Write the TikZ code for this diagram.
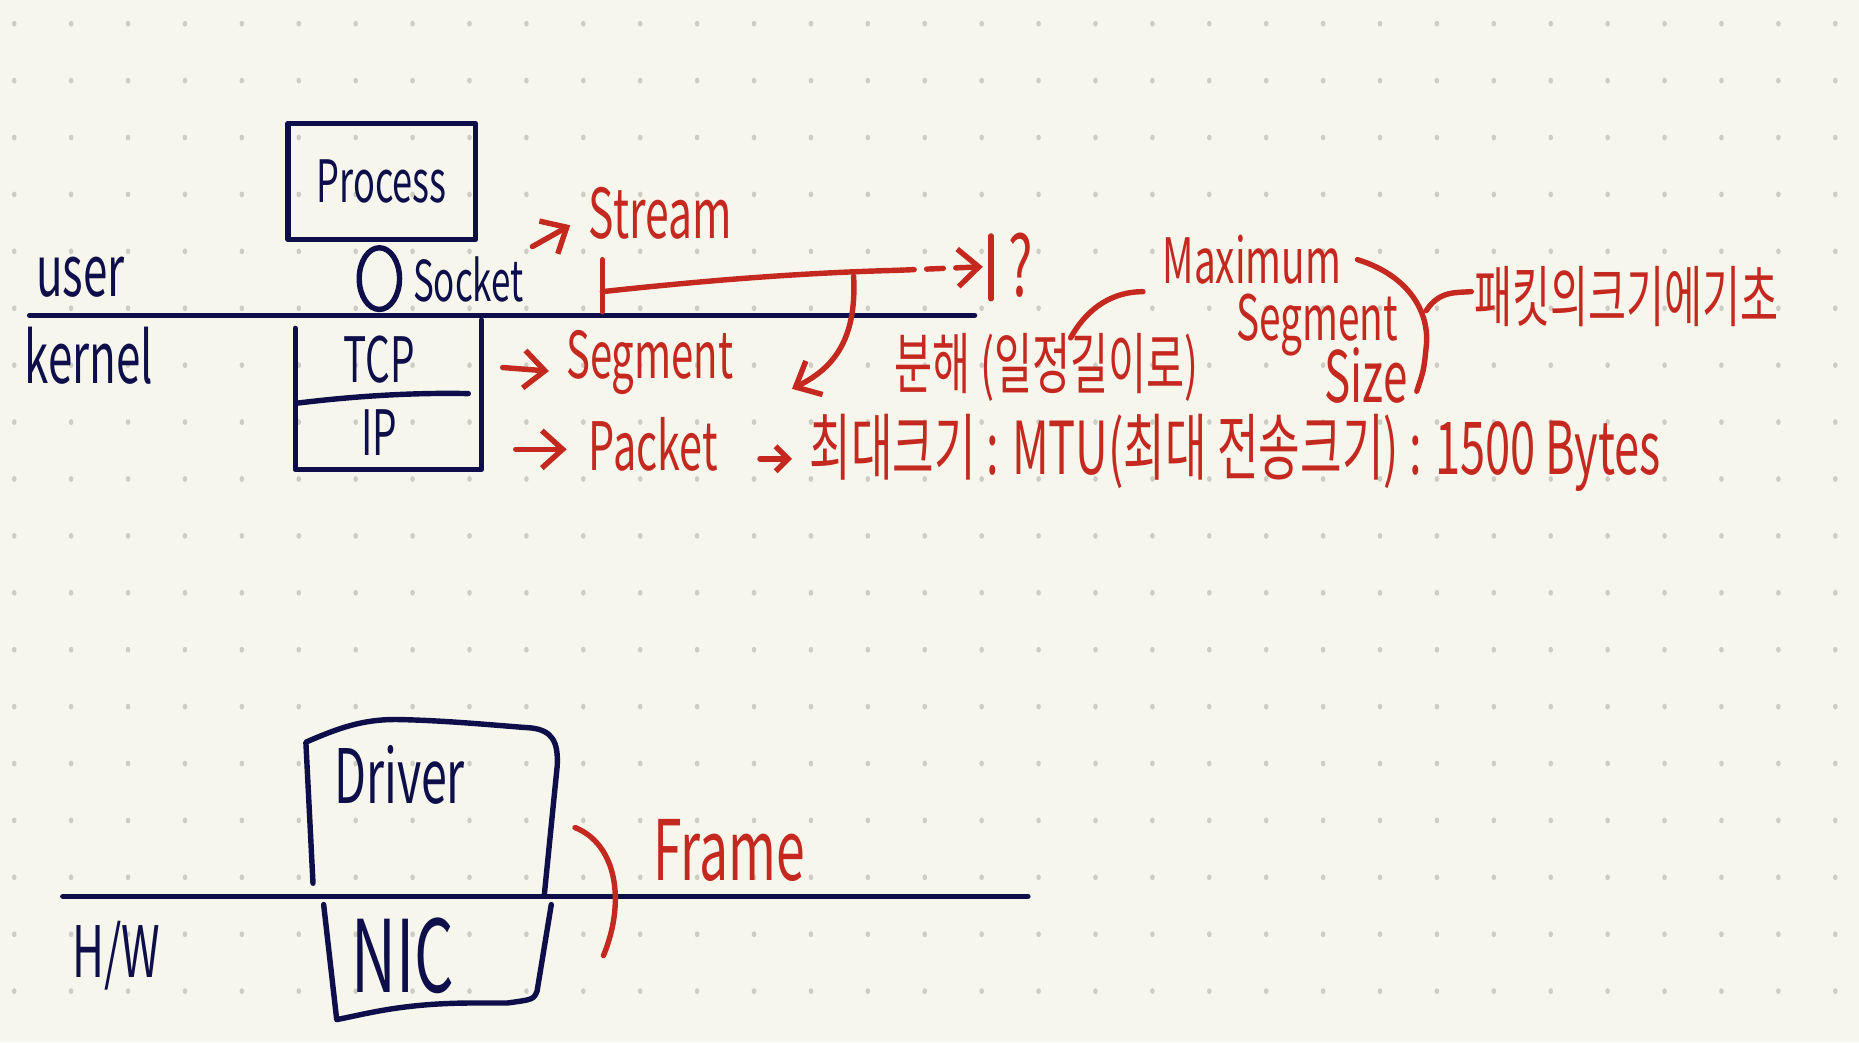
\documentclass[tikz,border=0pt]{standalone}
\usepackage{fontspec}
\usepackage{xcolor}
\usepackage{tikz}
\usetikzlibrary{positioning,
				arrows.meta,
				calc}
\newfontfamily\handfont[FakeStretch=0.62]{Noto Sans CJK KR}
\newcommand\handsize[1]{\handfont\fontsize{#1}{#1}\selectfont}
\definecolor{paper}{HTML}{F7F6EC}
\definecolor{dotgray}{HTML}{CDCDC5}
\definecolor{inkblue}{HTML}{0E0F4A}
\definecolor{inkred}{HTML}{C4281F}
\tikzset{
	navy line/.style={draw=inkblue, line width=1.3pt, line cap=round, line join=round},
	red line/.style={draw=inkred, line width=1.3pt, line cap=round, line join=round},
	red arrow/.style={red line, -{Straight Barb[length=5pt,width=9pt]}},
	note/.style={inner sep=0pt},
	blue note/.style={note, text=inkblue},
	red note/.style={note, text=inkred},
	tight/.style={text height=0.73em, text depth=#1},
	tight/.default=0.02em
}
\begin{document}
\begin{tikzpicture}[x=0.01cm, y=-0.01cm]
	% paper and dot grid
	\path[use as bounding box, fill=paper] (0,0) rectangle (1568,879);
	\foreach \i in {0,...,32}
		\foreach \j in {0,...,17}
			\fill[dotgray] (12+48*\i,20+48*\j) ellipse [x radius=0.55pt, y radius=0.7pt];

	% user / kernel
	\draw[navy line] (25,266) coordinate (uk west) -- (822,266) coordinate (uk east);
	\node[blue note, font=\handsize{17}] (user) at (68,234) {user};
	\node[blue note, font=\handsize{17}] (kernel) at (75,300) {kernel};
	\node[navy line, minimum width=1.58cm, minimum height=0.98cm, font=\handsize{14}, text=inkblue]
		(proc) at (322,153) {Process};
	\draw[navy line] (320,235) ellipse [x radius=0.17cm, y radius=0.26cm];
	\node[blue note, font=\handsize{13.5}] (sock) at (395,236) {Socket};
	\draw[navy line] (249,277) -- (249,396) -- (406,396) -- (406,270);
	\draw[navy line] (251,340) .. controls (300,334) and (350,331) .. (395,332);
	\node[blue note, font=\handsize{15}] (tcp) at (320,303) {TCP};
	\node[blue note, font=\handsize{15}] (ip) at (320,365) {IP};

	% stream
	\node[red note, font=\handsize{16.5}] (stream) at (557,180) {Stream};
	\draw[red arrow] (449,208) -- (481,190);
	\draw[red line] (508,219) -- (508,263);
	\draw[red line] (508,246) .. controls (600,236) and (680,230) .. (757,228) coordinate (cut);
	\draw[red arrow, dash pattern=on 4pt off 3pt] (cut) -- (829,225);
	\draw[red line] (836,199) -- (836,252);
	\node[red note, font=\handsize{20}] (q) at (861,224) {?};
	\draw[red arrow] (720,233) .. controls (723,290) and (700,312) .. (668,328);

	% segment
	\node[red note, font=\handsize{15.5}] (seg) at (548,306) {Segment};
	\draw[red arrow] (424,310) -- (463,313);
	\node[red note, font=\handsize{16}, anchor=west] (bunhae) at (754,310) {분해 (일정길이로)};
	\draw[red line] (903,285) .. controls (918,258) and (940,246) .. (964,246);
	\node[red note, tight, font=\handsize{15}] (maxi) at (1056,227) {Maximum};
	\node[red note, tight=0.22em, font=\handsize{15}] (mseg) at (1111,278) {Segment};
	\node[red note, tight, font=\handsize{17}] (msize) at (1152,327) {Size};
	\draw[red line] (1145,219) .. controls (1190,233) and (1206,265) .. (1203,292)
		.. controls (1201,312) .. (1195,330);
	\draw[red line] (1203,262) .. controls (1214,245) and (1228,247) .. (1241,246);
	\node[red note, font=\handsize{16}] (pktsize) at (1372,250) {패킷의크기에기초};

	% packet
	\node[red note, font=\handsize{16}] (pkt) at (551,375) {Packet};
	\draw[red arrow] (435,379) -- (478,379);
	\draw[red line, -{Straight Barb[length=3pt,width=6pt]}] (641,387) -- (668,387);
	\node[red note, font=\handsize{17.5}, anchor=west] (mtu) at (682,382)
		{최대크기 : MTU(최대 전송크기) : 1500 Bytes};

	% driver / NIC
	\draw[navy line] (53,756) coordinate (hw west) -- (867,756) coordinate (hw east);
	\draw[navy line] (264,745) -- (258,626) .. controls (290,612) and (310,606) .. (340,607)
		.. controls (380,608) and (420,612) .. (448,614) .. controls (466,616) and (471,626) .. (470,646)
		-- (459,756);
	\draw[navy line] (465,763) -- (453,836) .. controls (450,843) .. (428,846) -- (400,846)
		.. controls (340,846) and (310,855) .. (284,860) -- (273,763);
	\node[blue note, font=\handsize{18}] (driver) at (337,654) {Driver};
	\node[blue note, font=\handsize{24}] (nic) at (340,806) {NIC};
	\node[blue note, font=\handsize{17}] (hw) at (98,806) {H/W};
	\draw[red line] (485,698) .. controls (520,712) and (528,760) .. (509,806);
	\node[red note, font=\handsize{20}] (frame) at (615,717) {Frame};
\end{tikzpicture}
\end{document}
